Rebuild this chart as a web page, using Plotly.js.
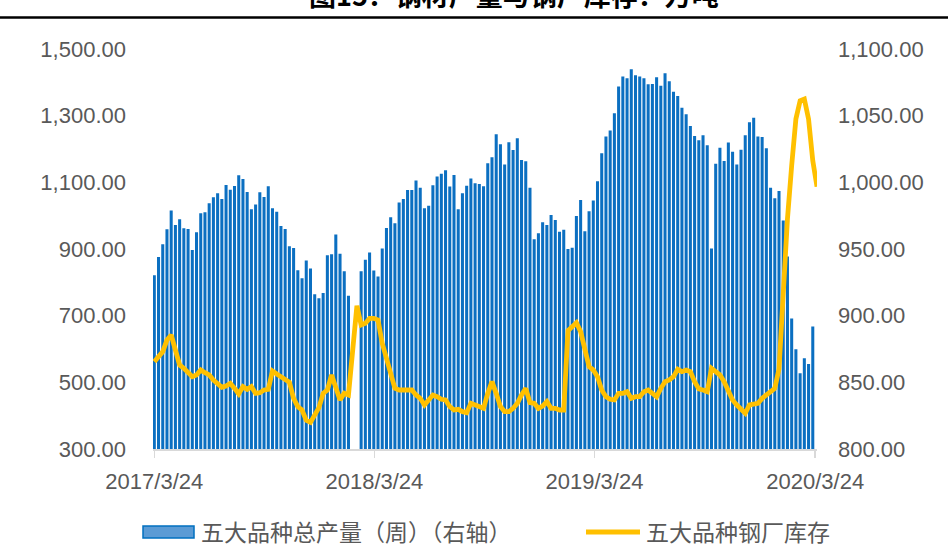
<!DOCTYPE html>
<html><head><meta charset="utf-8">
<script src="https://cdn.plot.ly/plotly-3.0.1.min.js"></script>
<style>html,body{margin:0;padding:0;background:#fff}#chart{width:948px;height:547px}</style>
</head><body><div id="chart"></div>
<script>
// ---- data ----
const startDate = '2017-03-24';   // first weekly observation (Friday)
const weekCount = 158;
const production = [ // 五大品种总产量（周）, right axis, 157 weeks
930.3,944,953.5,964.8,978.8,968,972.3,965.5,965,949.3,
962.5,976.8,977.5,984.3,988.8,991.8,987.5,998,994.5,997.3,
1005.3,1002.5,992.8,979.8,983.3,992.5,989,997,980.5,978,
967.3,965,952,950.8,934,928,941.3,935.3,916,913,
917,945.3,946,960.8,946.5,933.3,915,null,null,933.3,
942,947.3,933.8,929.3,950.3,965.8,973.8,969.3,984.8,987.5,
994.3,994.3,1001.3,996,980.5,982.5,997.8,1004.3,1006.5,1009,
996.8,1005.5,979.8,991.8,997.5,1002.8,999.3,998.8,997,1014.3,
1018.8,1036,1028.5,1013.3,1030,1024.3,1033,1016.8,1015.8,996,
957.3,961.8,970,968,975.5,971.8,963,964.5,950,951,
974.8,986.8,963.3,978.3,986.3,1000.8,1021.8,1034.3,1038.8,1051.8,
1071.8,1079.3,1078,1084.8,1080.3,1079.3,1078,1073.5,1073.8,1078.8,
1072.5,1081.8,1075.8,1068,1064.8,1056,1051,1042.3,1034.8,1031.5,
1035.3,1027.8,950.3,1014,1026,1016,1029.8,1023,1013.3,1024.5,
1035.3,1045,1048.5,1034.3,1034,1025.5,996,988,993.5,971.3,
944.3,897.8,874.8,856.8,868,863.8,891.8
];
const inventory = [ // 五大品种钢厂库存, left axis, 158 weeks
562,577,592,627,642,597,552,542,527,517,
522,537,529,522,507,497,485,489,497,482,
465,487,479,487,467,469,477,479,534,525,
517,512,500,452,427,417,386,380,402,424,
467,477,522,487,447,467,462,null,730,672,
677,692,692,687,617,567,527,482,477,477,
477,477,462,452,432,447,462,457,449,447,
427,417,419,412,409,437,432,427,422,467,
502,467,427,412,412,422,437,462,482,439,
437,422,429,442,422,422,417,417,655,667,
679,652,597,547,537,517,477,457,449,447,
467,467,472,452,457,457,472,477,467,457,
482,502,507,517,539,532,537,532,502,480,
477,472,542,532,522,502,472,447,432,417,
407,432,435,437,452,462,472,482,540,780,
990,1150,1290,1345,1350,1290,1165,1087
];
const tickDates = ['2017-03-24','2018-03-24','2019-03-24','2020-03-24'];
const tickLabels = ['2017/3/24','2018/3/24','2019/3/24','2020/3/24'];
const legendLabels = ['五大品种总产量（周）（右轴）','五大品种钢厂库存'];
const titleText = '图15：钢材产量与钢厂库存：万吨';

// ---- helpers ----
function weekDates(start, n){
  const p = start.split('-').map(Number);
  const t0 = Date.UTC(p[0], p[1]-1, p[2]);
  const out = [];
  for (let i=0;i<n;i++){ out.push(new Date(t0 + i*7*86400000).toISOString().slice(0,10)); }
  return out;
}
const dates = weekDates(startDate, weekCount);

const W=948, H=547, ML=153, MR=131, MT=49, MB=98;
const PW = W-ML-MR, PH = H-MT-MB;
const px = v => (v-ML)/PW;
const py = v => (H-MB-v)/PH;

const tickFont = {family:'Liberation Sans, Arial, sans-serif', size:22, color:'#595959'};
const cjk = 'Noto Sans CJK SC, sans-serif';

const traces = [
  {type:'bar', x:dates.slice(0, production.length), y:production, yaxis:'y', name:legendLabels[0],
   marker:{color:'#0b6fc1', line:{color:'#0070c0', width:0}}, showlegend:false, hoverinfo:'x+y'},
  {type:'scatter', mode:'lines', x:dates.slice(0, inventory.length), y:inventory, yaxis:'y2', name:legendLabels[1],
   connectgaps:true, line:{color:'#FFC000', width:4.8}, showlegend:false}
];

const layout = {
  width:W, height:H,
  margin:{l:ML, r:MR, t:MT, b:MB, pad:0},
  paper_bgcolor:'#ffffff', plot_bgcolor:'#ffffff',
  bargap:0.28,
  showlegend:false,
  xaxis:{type:'date', range:['2017-03-21 20:00','2020-03-27 00:00'],
    tickmode:'array', tickvals:tickDates, ticktext:tickLabels,
    ticks:'outside', ticklen:7, tickwidth:1.5, tickcolor:'#d9d9d9',
    showline:true, linecolor:'#d9d9d9', linewidth:1.5,
    showgrid:false, zeroline:false, tickfont:tickFont, ticklabelstandoff:5},
  yaxis:{side:'right', range:[800,1100], tick0:800, dtick:50, tickformat:',.2f',
    showgrid:false, zeroline:false, showline:false, ticks:'', tickfont:tickFont, ticklabelstandoff:20},
  yaxis2:{side:'left', overlaying:'y', range:[300,1500], tick0:300, dtick:200, tickformat:',.2f',
    showgrid:false, zeroline:false, showline:false, ticks:'', tickfont:tickFont, ticklabelstandoff:26},
  shapes:[
    {type:'line', xref:'paper', yref:'paper', x0:px(0), x1:px(W), y0:py(17.5), y1:py(17.5), line:{color:'#000', width:2.5}},
    {type:'rect', xref:'paper', yref:'paper', x0:px(143), x1:px(194), y0:py(538), y1:py(526),
      fillcolor:'#5b9bd5', line:{color:'#0070c0', width:1.5}},
    {type:'line', xref:'paper', yref:'paper', x0:px(586), x1:px(640), y0:py(532), y1:py(532),
      line:{color:'#FFC000', width:5}}
  ],
  annotations:[
    {xref:'paper', yref:'paper', x:px(514), y:py(-6), xanchor:'center', yanchor:'middle', showarrow:false,
      text:'<b>'+titleText+'</b>', font:{family:cjk, size:27, color:'#000'}},
    {xref:'paper', yref:'paper', x:px(199), y:py(530.5), xanchor:'left', yanchor:'middle', showarrow:false,
      text:legendLabels[0], font:{family:cjk, size:23, color:'#595959'}},
    {xref:'paper', yref:'paper', x:px(644), y:py(530.5), xanchor:'left', yanchor:'middle', showarrow:false,
      text:legendLabels[1], font:{family:cjk, size:23, color:'#595959'}}
  ]
};

Plotly.newPlot('chart', traces, layout, {displayModeBar:false, staticPlot:true});
</script>
</body></html>
